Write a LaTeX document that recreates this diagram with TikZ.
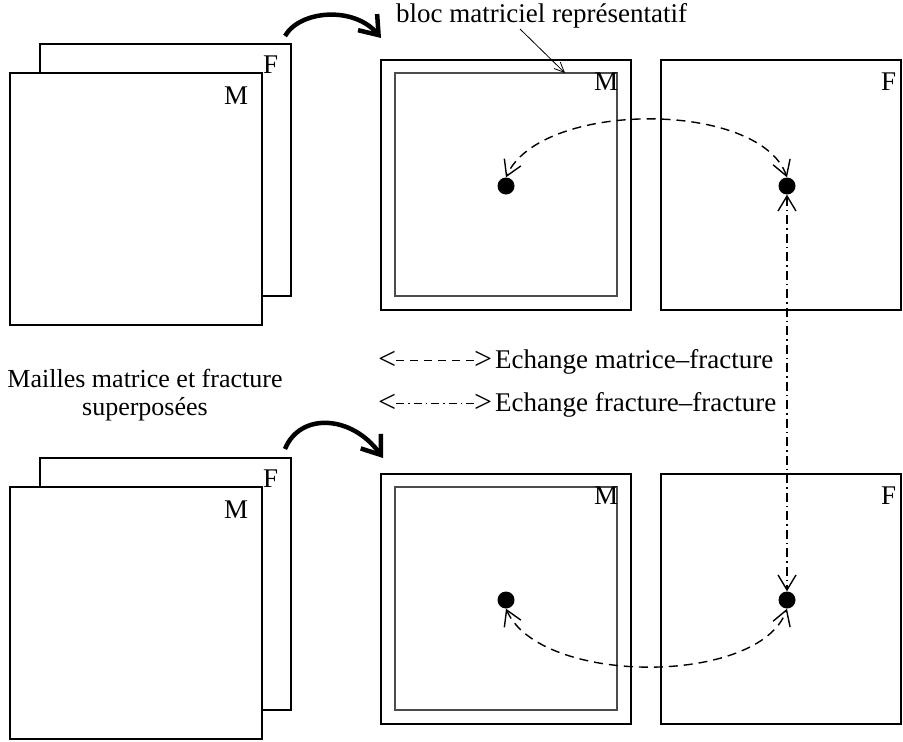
\documentclass[tikz,border=0pt]{standalone}
\usepackage{fontspec}
\setmainfont{Liberation Serif}
\usetikzlibrary{arrows.meta}
\begin{document}
\begin{tikzpicture}[x=1pt,y=-1pt,
  box/.style={draw=black,line width=1.4pt,fill=white},
  inbox/.style={draw=black!70,line width=1.1pt},
  lbl/.style={inner sep=0pt,anchor=base west,font=\fontsize{27}{28}\selectfont},
  dot/.style={circle,fill=black,inner sep=0pt,minimum size=17pt},
  bigarr/.style={line width=4.5pt,-{Straight Barb[length=17pt,width=25pt]}},
  mfarr/.style={line width=1.4pt,dash pattern=on 9pt off 6pt,{Straight Barb[length=15pt,width=18pt]}-{Straight Barb[length=15pt,width=18pt]}},
  ffarr/.style={line width=1.4pt,dash pattern=on 9pt off 4pt on 1.5pt off 4pt,{Straight Barb[length=15pt,width=18pt]}-{Straight Barb[length=15pt,width=18pt]}}]
\useasboundingbox (0,0) rectangle (903,742);

% left stacks
\draw[box] (40,44) rectangle (291,296);
\draw[box] (10,73) rectangle (262,325);
\node[lbl] (fTL) at (263,73) {F};
\node[lbl] (mTL) at (224,104) {M};
\draw[box] (40,458) rectangle (291,710);
\draw[box] (10,487) rectangle (262,739);
\node[lbl] (fBL) at (263,487) {F};
\node[lbl] (mBL) at (224,518) {M};

% right blocks top
\draw[box] (381,60) rectangle (631,310);
\draw[inbox] (395,73) rectangle (617,296);
\draw[box] (661,60) rectangle (901,310);
\node[lbl] (mTR) at (594,90) {M};
\node[lbl] (fTR) at (881,90) {F};
% right blocks bottom
\draw[box] (381,474) rectangle (631,724);
\draw[inbox] (395,487) rectangle (617,710);
\draw[box] (661,474) rectangle (901,724);
\node[lbl] (mBR) at (594,504) {M};
\node[lbl] (fBR) at (881,504) {F};

% label bloc
\node[lbl] (bloc) at (396,22) {bloc matriciel représentatif};
\coordinate (ptrS) at (520,29);
\coordinate (ptrE) at (565,73);
\draw[line width=0.8pt,-{Straight Barb[length=10pt,width=9pt]}] (ptrS) -- (ptrE);

% big arrows
\coordinate (a1s) at (285,36);
\coordinate (a1e) at (381,38);
\draw[bigarr] (a1s) .. controls (300,10) and (354,6) .. (a1e);
\coordinate (a2s) at (285,449);
\coordinate (a2e) at (383,458);
\draw[bigarr] (a2s) .. controls (300,412) and (352,415) .. (a2e);

% dots
\node[dot] (dTL) at (506,186) {};
\node[dot] (dTR) at (787,186) {};
\node[dot] (dBL) at (506,600) {};
\node[dot] (dBR) at (787,600) {};

\draw[mfarr] (dTR.north) .. controls (760,100) and (540,100) .. (dTL.north);
\draw[mfarr] (dBL.south) .. controls (540,686) and (760,686) .. (dBR.south);
\draw[ffarr] (dTR.south) -- (dBR.north);

% legend
\node[lbl,font=\fontsize{32}{32}\selectfont] (lt1) at (378,369) {<};
\node[lbl,font=\fontsize{32}{32}\selectfont] (gt1) at (474,369) {>};
\draw[line width=1.2pt,dash pattern=on 8pt off 6pt] ([yshift=-1pt]lt1.east) -- ([yshift=-1pt]gt1.west);
\node[lbl] (t1) at (495,368) {Echange matrice–fracture};
\node[lbl,font=\fontsize{32}{32}\selectfont] (lt2) at (378,412) {<};
\node[lbl,font=\fontsize{32}{32}\selectfont] (gt2) at (474,412) {>};
\draw[line width=1.2pt,dash pattern=on 8pt off 4pt on 1.5pt off 4pt] ([yshift=-1pt]lt2.east) -- ([yshift=-1pt]gt2.west);
\node[lbl] (t2) at (495,411) {Echange fracture–fracture};

\node[align=center,inner sep=0pt,font=\fontsize{26}{28}\selectfont] (mailles) at (145,395) {Mailles matrice et fracture\\superposées};
\end{tikzpicture}
\end{document}
